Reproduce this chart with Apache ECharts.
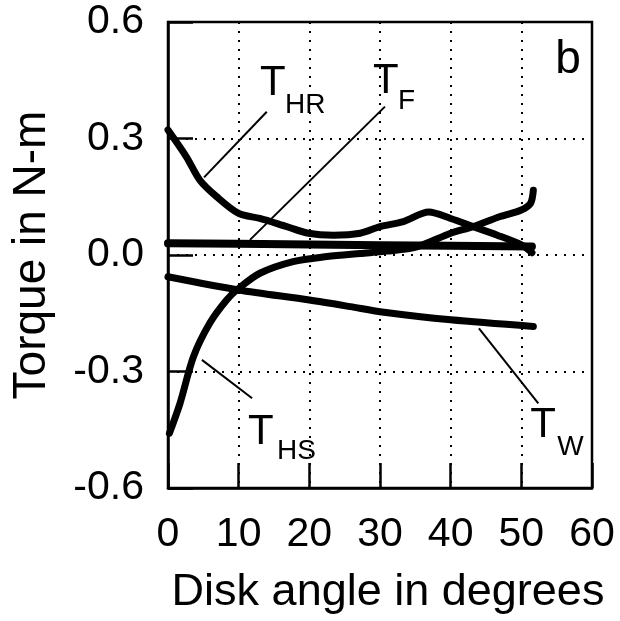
<!DOCTYPE html>
<html>
<head>
<meta charset="utf-8">
<script src="https://cdn.jsdelivr.net/npm/echarts@6/dist/echarts.min.js"></script>
<style>
html,body{margin:0;padding:0;background:#fff;}
#chart{width:620px;height:621px;}
</style>
</head>
<body>
<div id="chart"></div>
<script>
// Disk angle (degrees) and torque (N-m) values
const angleHR = [0, 2.6, 4.5, 6.9, 10, 13, 16.8, 19.9, 23.4, 27.2, 30, 33.3, 36.9, 40, 43.2, 46.6, 50, 51.5];
const torqueHR = [0.322, 0.253, 0.193, 0.15, 0.107, 0.094, 0.073, 0.056, 0.051, 0.056, 0.073, 0.086, 0.111, 0.094, 0.073, 0.051, 0.026, 0.006];

const angleHS = [0.2, 1.7, 3.6, 5.9, 8.3, 10, 13, 17.7, 22.5, 27.2, 31, 35.2, 40, 43.2, 47, 50, 51.3, 51.7];
const torqueHS = [-0.459, -0.382, -0.262, -0.176, -0.116, -0.086, -0.047, -0.017, -0.004, 0.004, 0.01, 0.021, 0.056, 0.073, 0.099, 0.116, 0.133, 0.167];

const angleF = [0, 10, 20, 30, 40, 51.5];
const torqueF = [0.03, 0.029, 0.027, 0.025, 0.024, 0.022];

const angleW = [0, 10, 20, 25.8, 30, 40, 51.7];
const torqueW = [-0.056, -0.09, -0.116, -0.133, -0.146, -0.167, -0.184];

const xTicks = [0, 10, 20, 30, 40, 50, 60];
const yTicks = [-0.6, -0.3, 0, 0.3, 0.6];

// Annotation leader lines [x1, y1, x2, y2] in data units
const leaderHR = [13.98, 0.369, 5.1, 0.2];
const leaderF = [30.7, 0.382, 11.6, 0.039];
const leaderHS = [4.8, -0.27, 11.9, -0.369];
const leaderW = [44, -0.189, 52.4, -0.382];

// Annotation labels: [main, subscript, xMain, yMain, xSub, ySub]
const labels = [
  ['T', 'HR', 13.03, 0.441, 16.56, 0.386],
  ['T', 'F', 29.0, 0.448, 32.56, 0.395],
  ['T', 'HS', 11.33, -0.456, 15.43, -0.505],
  ['T', 'W', 51.25, -0.439, 55.07, -0.495]
];
const panelLetter = ['b', 54.79, 0.501];

function zip(xs, ys) { return xs.map((x, i) => [x, ys[i]]); }

const FONT = 'Liberation Sans, Arial, Helvetica, sans-serif';
const chart = echarts.init(document.getElementById('chart'));

const curveStyle = (w) => ({ type: 'line', symbol: 'none', smooth: 0.3, lineStyle: { color: '#000', width: w, cap: 'round', join: 'round' }, z: 5, animation: false });
const leader = (a) => ({ type: 'line', symbol: 'none', data: [[a[0], a[1]], [a[2], a[3]]], lineStyle: { color: '#000', width: 2 }, z: 4, animation: false });

chart.setOption({
  animation: false,
  backgroundColor: '#fff',
  grid: { left: 168, right: 28, top: 22, bottom: 133, show: true, borderColor: '#000', borderWidth: 2.5, backgroundColor: 'transparent' },
  xAxis: {
    type: 'value', min: xTicks[0], max: xTicks[xTicks.length - 1], interval: 10,
    name: 'Disk angle in degrees', nameLocation: 'middle', nameGap: 82,
    nameTextStyle: { fontFamily: FONT, fontSize: 45, color: '#000', padding: [0, 0, 0, 16] },
    axisLine: { show: true, onZero: false, lineStyle: { color: '#000', width: 2.5 } },
    axisTick: { show: true, inside: true, length: 25, lineStyle: { color: '#000', width: 2.5 } },
    axisLabel: { fontFamily: FONT, fontSize: 41, color: '#000', margin: 26 },
    splitLine: { show: true, lineStyle: { color: '#000', width: 2, type: [2, 7] } }
  },
  yAxis: {
    type: 'value', min: yTicks[0], max: yTicks[yTicks.length - 1], interval: 0.3,
    name: 'Torque in N-m', nameLocation: 'middle', nameGap: 113,
    nameTextStyle: { fontFamily: FONT, fontSize: 46, color: '#000' },
    axisLine: { show: true, onZero: false, lineStyle: { color: '#000', width: 2.5 } },
    axisTick: { show: true, inside: true, length: 25, lineStyle: { color: '#000', width: 2.5 } },
    axisLabel: { fontFamily: FONT, fontSize: 41, color: '#000', margin: 24, formatter: v => v.toFixed(1) },
    splitLine: { show: true, lineStyle: { color: '#000', width: 2, type: [2, 7] } }
  },
  series: [
    Object.assign(curveStyle(8), { name: 'T_F', data: zip(angleF, torqueF), smooth: false }),
    Object.assign(curveStyle(7), { name: 'T_W', data: zip(angleW, torqueW) }),
    Object.assign(curveStyle(7), { name: 'T_HR', data: zip(angleHR, torqueHR) }),
    Object.assign(curveStyle(7), { name: 'T_HS', data: zip(angleHS, torqueHS) }),
    leader(leaderHR), leader(leaderF), leader(leaderHS), leader(leaderW)
  ]
});

function place() {
  const els = [];
  labels.forEach(l => {
    const p1 = chart.convertToPixel({ gridIndex: 0 }, [l[2], l[3]]);
    const p2 = chart.convertToPixel({ gridIndex: 0 }, [l[4], l[5]]);
    els.push({ type: 'text', x: p1[0], y: p1[1], style: { text: l[0], font: '42px ' + FONT, fill: '#000', align: 'left', verticalAlign: 'middle' }, z: 10 });
    els.push({ type: 'text', x: p2[0], y: p2[1], style: { text: l[1], font: '28px ' + FONT, fill: '#000', align: 'left', verticalAlign: 'middle' }, z: 10 });
  });
  const pb = chart.convertToPixel({ gridIndex: 0 }, [panelLetter[1], panelLetter[2]]);
  els.push({ type: 'text', x: pb[0], y: pb[1], style: { text: panelLetter[0], font: '46px ' + FONT, fill: '#000', align: 'left', verticalAlign: 'middle' }, z: 10 });
  chart.setOption({ graphic: els });
}
place();
</script>
</body>
</html>
